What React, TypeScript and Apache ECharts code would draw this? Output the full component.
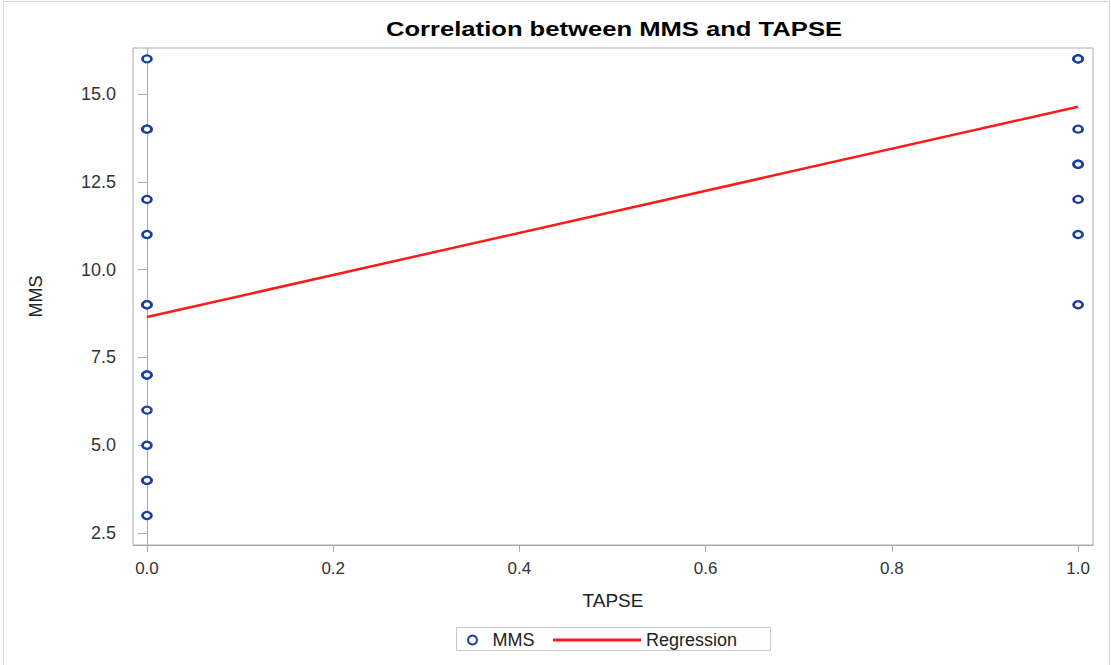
import React, { useEffect, useRef } from "react";
import * as echarts from "echarts";

const titleText = "Correlation between MMS and TAPSE";
const tapseLeft = 0;
const tapseRight = 1;
const mmsAtTapse0 = [16, 14, 14, 12, 11, 9, 9, 7, 7, 6, 5, 4, 4, 3];
const mmsAtTapse1 = [16, 16, 16, 14, 13, 13, 12, 11, 9];
const regressionX = [0, 1];
const regressionY = [8.65, 14.64];
const yTicks = [2.5, 5, 7.5, 10, 12.5, 15];
const xTicks = [0, 0.2, 0.4, 0.6, 0.8, 1.0];

const FONT = "'Liberation Sans', Arial, sans-serif";
const AXIS_GRAY = "#a7abb0";
const BLUE = "#1a3fa0";

export default function App() {
  const ref = useRef<HTMLDivElement>(null);
  useEffect(() => {
    if (!ref.current) return;
    const chart = echarts.init(ref.current, null, { renderer: "svg" });
    const scatterData = [
      ...mmsAtTapse0.map((v) => [tapseLeft, v]),
      ...mmsAtTapse1.map((v) => [tapseRight, v]),
    ];
    const regData = regressionX.map((x, i) => [x, regressionY[i]]);
    chart.setOption({
      animation: false,
      backgroundColor: "#ffffff",
      textStyle: { fontFamily: FONT },
      grid: {
        left: 133,
        top: 48,
        right: 18,
        bottom: 120,
        show: true,
        borderColor: AXIS_GRAY,
        borderWidth: 1,
      },
      xAxis: {
        type: "value",
        min: -0.015,
        max: 1.016,
        name: "TAPSE",
        nameLocation: "middle",
        nameGap: 46,
        nameTextStyle: { fontSize: 19, color: "#222", fontFamily: FONT },
        axisLine: { show: true, lineStyle: { color: AXIS_GRAY } },
        axisTick: {
          show: true,
          length: 7,
          lineStyle: { color: AXIS_GRAY },
          customValues: xTicks,
        },
        axisLabel: {
          customValues: xTicks,
          formatter: (v: number) => v.toFixed(1),
          fontSize: 17,
          color: "#333",
          margin: 15,
          fontFamily: FONT,
        },
        splitLine: { show: false },
      },
      yAxis: {
        type: "value",
        min: 2.16,
        max: 16.31,
        name: "MMS",
        nameLocation: "middle",
        nameGap: 88,
        nameTextStyle: { fontSize: 18, color: "#222", fontFamily: FONT },
        axisLine: { show: true, lineStyle: { color: AXIS_GRAY } },
        axisTick: {
          show: true,
          length: 9,
          lineStyle: { color: AXIS_GRAY },
          customValues: yTicks,
        },
        axisLabel: {
          customValues: yTicks,
          formatter: (v: number) => v.toFixed(1),
          fontSize: 18,
          color: "#333",
          margin: 17,
          fontFamily: FONT,
        },
        splitLine: { show: false },
      },
      legend: [
        {
          data: ["MMS"],
          left: 467,
          top: 631,
          padding: 0,
          itemWidth: 30,
          itemHeight: 9,
          textStyle: { fontSize: 18, color: "#222", fontFamily: FONT },
        },
        {
          data: [{ name: "Regression", icon: "rect" }],
          left: 553,
          top: 631,
          padding: 0,
          itemWidth: 88,
          itemHeight: 3,
          textStyle: { fontSize: 18, color: "#222", fontFamily: FONT },
        },
      ],
      graphic: [
        {
          type: "rect",
          shape: { x: 3.5, y: 1.5, width: 1106, height: 675 },
          style: { fill: "none", stroke: "#d4d4d4", lineWidth: 1 },
          silent: true,
          z: -10,
        },
        {
          type: "text",
          x: 614,
          y: 29,
          scaleX: 1.28,
          style: {
            text: titleText,
            font: "bold 20px " + FONT,
            fill: "#000",
            textAlign: "center",
            textVerticalAlign: "middle",
          },
        },
        {
          type: "rect",
          shape: { x: 456.5, y: 627.5, width: 314, height: 23 },
          style: { fill: "none", stroke: "#c8c8c8", lineWidth: 1 },
          silent: true,
        },
      ],
      series: [
        {
          name: "MMS",
          type: "scatter",
          data: scatterData,
          symbol: "circle",
          symbolSize: [9, 7],
          itemStyle: { color: "#ffffff", borderColor: BLUE, borderWidth: 2.5, opacity: 1 },
          z: 3,
        },
        {
          name: "Regression",
          type: "line",
          data: regData,
          symbol: "none",
          showSymbol: false,
          lineStyle: { color: "#ff1a1a", width: 2.5 },
          itemStyle: { color: "#ff1a1a" },
          z: 2,
        },
      ],
    });
    return () => chart.dispose();
  }, []);
  return (
    <div
      ref={ref}
      style={{ position: "fixed", left: 0, top: 0, width: 1111, height: 665 }}
    />
  );
}
